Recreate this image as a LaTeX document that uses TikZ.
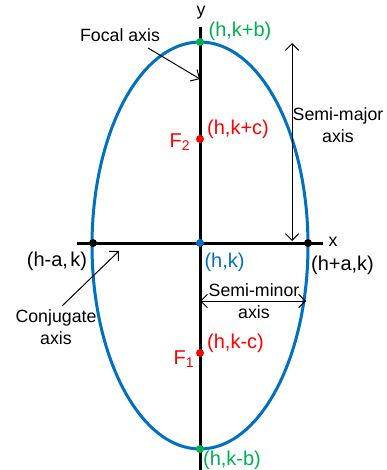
\documentclass[tikz,border=0pt]{standalone}
\usepackage{fontspec}
\setmainfont{Liberation Sans}
\usetikzlibrary{arrows.meta}
\definecolor{eblue}{RGB}{0,112,192}
\definecolor{egreen}{RGB}{0,176,80}
\definecolor{ered}{RGB}{255,0,0}
\begin{document}
\begin{tikzpicture}[x=0.75pt,y=-0.75pt,
  font=\fontsize{13.3}{16.5}\selectfont,
  dotnode/.style={circle,inner sep=0pt,minimum size=6pt,fill=#1},
  lbl/.style={inner sep=0pt,align=center},
  ptlbl/.style={inner sep=0pt,font=\fontsize{15}{18}\selectfont},
  axisline/.style={line width=2.25pt,black},
  thinarrow/.style={line width=0.75pt,-{Straight Barb[length=5pt,width=10pt]}},
  dblarrow/.style={line width=0.75pt,{Straight Barb[length=5pt,width=10pt]}-{Straight Barb[length=5pt,width=10pt]}}]
\useasboundingbox (0,0) rectangle (386,470);
% axes
\coordinate (ytop) at (200,27);
\coordinate (ybot) at (200,470);
\coordinate (xl) at (77,243);
\coordinate (xr) at (323,243);
\draw[axisline] (ytop) -- (ybot);
\draw[axisline] (xl) -- (xr);
% ellipse
\coordinate (ec) at (200,245.5);
\draw[eblue,line width=2.25pt] (ec) ellipse [x radius=81pt, y radius=152.6pt];
% points
\node[dotnode=egreen] (top) at (200,42) {};
\node[dotnode=egreen] (bot) at (200,449) {};
\node[dotnode=ered] (f2) at (200,139) {};
\node[dotnode=ered] (f1) at (200,353) {};
\node[dotnode=black] (vl) at (93,243) {};
\node[dotnode=black] (vr) at (308,243) {};
\node[dotnode=eblue] (ctr) at (200,243) {};
% axis names
\node[lbl] (ylab) at (201,13) {y};
\node[lbl] (xlab) at (333,242) {x};
% labels
\node[ptlbl,text=egreen] (ltop) at (240,31) {(h,k+b)};
\node[ptlbl,text=egreen] (lbot) at (232,460) {(h,k-b)};
\node[ptlbl,text=ered] (lf2) at (238,129) {(h,k+c)};
\node[ptlbl,text=ered] (nf2) at (180,142) {F\textsubscript{2}};
\node[ptlbl,text=ered] (lf1) at (235.5,343) {(h,k-c)};
\node[ptlbl,text=ered] (nf1) at (184,359) {F\textsubscript{1}};
\node[ptlbl,text=eblue] (lctr) at (224.5,262) {(h,k)};
\node[ptlbl] (lvl) at (57,261) {\spaceskip=0.12em (h-a, k)};
\node[ptlbl] (lvr) at (342.5,265) {(h+a,k)};
% focal axis
\node[lbl] (focal) at (120,35) {Focal axis};
\coordinate (fa1) at (148,48);
\coordinate (fa2) at (200,79);
\draw[thinarrow] (fa1) -- (fa2);
% semi-major
\node[lbl] (smaj) at (338,125) {Semi-major\\axis};
\coordinate (sm1) at (292,43);
\coordinate (sm2) at (292,241);
\draw[dblarrow] (sm1) -- (sm2);
% semi-minor
\coordinate (sn1) at (200,301);
\coordinate (sn2) at (306,301);
\draw[dblarrow] (sn1) -- (sn2);
\node[lbl] (smin) at (254,301) {Semi-minor\\axis};
% conjugate
\node[lbl] (conj) at (56,327) {Conjugate\\axis};
\coordinate (ca1) at (62,306);
\coordinate (ca2) at (119,251);
\draw[thinarrow] (ca1) -- (ca2);
\end{tikzpicture}
\end{document}
